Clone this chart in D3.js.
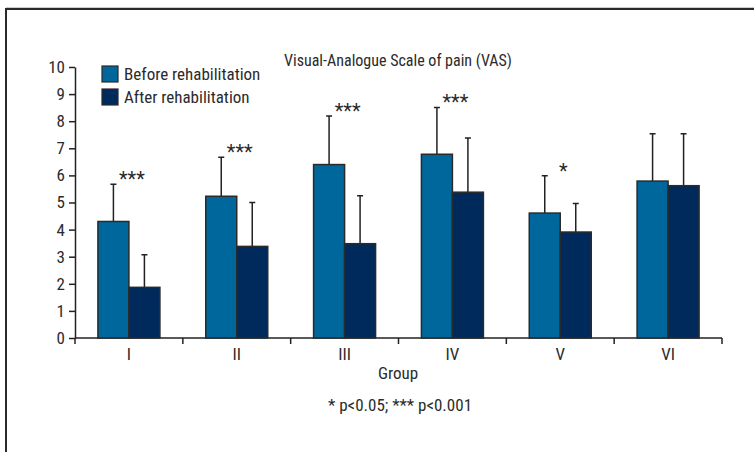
<!DOCTYPE html>
<meta charset="utf-8">
<style>
body { margin: 0; background: #fff; }
text { font-family: "Liberation Sans Narrow", "Roboto Condensed", "DejaVu Sans Condensed", sans-serif; fill: #2b2b2b; }
.axis path, .axis line { stroke: #222; stroke-width: 1.5px; }
.bar { stroke: #2a2a2a; stroke-width: 1.5px; }
.err { stroke: #222; stroke-width: 1.5px; fill: none; }
</style>
<svg width="754" height="452"></svg>
<script src="https://d3js.org/d3.v7.min.js"></script>
<script>
var groups = ["I", "II", "III", "IV", "V", "VI"];
var series = ["Before rehabilitation", "After rehabilitation"];
var before = [4.3, 5.23, 6.4, 6.78, 4.61, 5.79];
var beforeSD = [1.37, 1.44, 1.79, 1.73, 1.38, 1.75];
var after = [1.87, 3.38, 3.48, 5.38, 3.91, 5.62];
var afterSD = [1.2, 1.62, 1.77, 2.0, 1.05, 1.92];
var stars = ["***", "***", "***", "***", "*", ""];
var yTicks = [0, 1, 2, 3, 4, 5, 6, 7, 8, 9, 10];
var colors = ["#00679c", "#002a5b"];

var svg = d3.select("svg");

// frame
svg.append("line").attr("x1", 6).attr("x2", 754).attr("y1", 7.5).attr("y2", 7.5)
  .attr("stroke", "#ccc").attr("stroke-width", 1);
svg.append("path").attr("d", "M6,452 V9 H754").attr("fill", "none")
  .attr("stroke", "#2a2a2a").attr("stroke-width", 2);

var x = d3.scaleBand().domain(groups).range([75, 722]);
var y = d3.scaleLinear().domain([0, 10]).range([338, 67]);
var barW = 31;

var xAxis = svg.append("g").attr("class", "axis")
  .attr("transform", "translate(0,338)")
  .call(d3.axisBottom(x).tickSize(0).tickPadding(10));
xAxis.select(".domain").remove();
xAxis.append("line").attr("x1", 75).attr("x2", 722).attr("stroke", "#222");
xAxis.selectAll(".sep").data(d3.range(groups.length + 1)).enter().append("line")
  .attr("x1", function(i) { return 75 + i * x.bandwidth(); })
  .attr("x2", function(i) { return 75 + i * x.bandwidth(); })
  .attr("y1", 0).attr("y2", 6);
xAxis.selectAll("text").attr("font-size", 17).attr("fill", "#2b2b2b");

var yAxis = svg.append("g").attr("class", "axis")
  .attr("transform", "translate(75,0)")
  .call(d3.axisLeft(y).tickValues(yTicks).tickSize(6).tickSizeOuter(0).tickPadding(4));
yAxis.selectAll("text").attr("font-size", 17).attr("fill", "#2b2b2b");

var data = groups.map(function(g, i) {
  return { g: g, vals: [before[i], after[i]], sds: [beforeSD[i], afterSD[i]], star: stars[i] };
});

var gs = svg.selectAll(".grp").data(data).enter().append("g");

gs.each(function(d) {
  var g = d3.select(this);
  var cx = x(d.g) + x.bandwidth() / 2;
  d.vals.forEach(function(v, k) {
    var bx = cx - barW + k * barW;
    var top = y(v + d.sds[k]);
    g.append("path").attr("class", "err")
      .attr("d", "M" + (bx + barW / 2) + "," + y(v) + "V" + top +
        "M" + (bx + barW / 2 - 3) + "," + top + "H" + (bx + barW / 2 + 3));
    g.append("rect").attr("class", "bar")
      .attr("x", bx).attr("width", barW)
      .attr("y", y(v)).attr("height", y(0) - y(v))
      .attr("fill", colors[k]);
  });
  if (d.star) {
    g.append("text").attr("x", cx + 3).attr("y", y(d.vals[0] + d.sds[0]) + 2)
      .attr("text-anchor", "middle").attr("font-size", 20).text(d.star);
  }
});

// title, axis title, footnote
svg.append("text").attr("x", 398).attr("y", 66).attr("text-anchor", "middle")
  .attr("font-size", 16).text("Visual-Analogue Scale of pain (VAS)");
svg.append("text").attr("x", 398).attr("y", 379).attr("text-anchor", "middle")
  .attr("font-size", 17).text("Group");
svg.append("text").attr("x", 400).attr("y", 411).attr("text-anchor", "middle")
  .attr("font-size", 17).text("* p<0.05; *** p<0.001");

// legend
var leg = svg.selectAll(".leg").data(series).enter().append("g")
  .attr("transform", function(d, i) { return "translate(102," + (66 + i * 23) + ")"; });
leg.append("rect").attr("width", 16).attr("height", 16)
  .attr("fill", function(d, i) { return colors[i]; })
  .attr("stroke", "#2a2a2a").attr("stroke-width", 1.2);
leg.append("text").attr("x", 22).attr("y", 14).attr("font-size", 17).text(function(d) { return d; });
</script>
